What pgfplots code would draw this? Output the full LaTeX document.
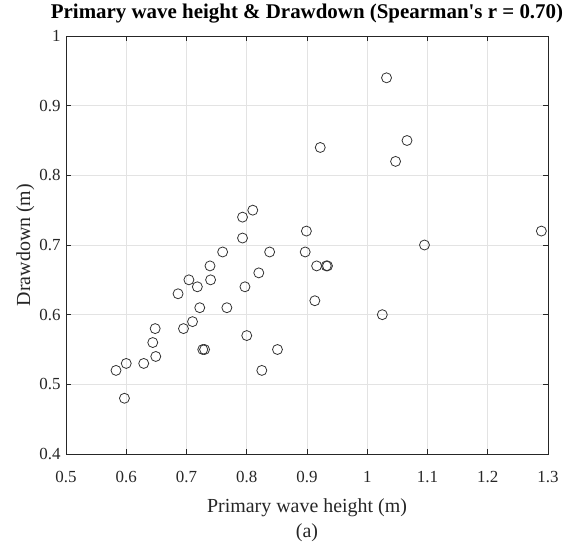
\documentclass[border=0pt]{standalone}
\usepackage{pgfplots}
\pgfplotsset{compat=1.18}
\usepackage{fontspec}
\setmainfont{Liberation Serif}
\definecolor{mk}{HTML}{333333}
\definecolor{gridc}{HTML}{E3E3E3}
\definecolor{axc}{HTML}{262626}
\begin{document}
\begin{tikzpicture}
\path[use as bounding box] (0,0) rectangle (567bp,544bp);
\begin{axis}[
  at={(66bp,90bp)}, anchor=south west,
  scale only axis, width=482bp, height=418bp,
  xmin=0.5, xmax=1.3, ymin=0.4, ymax=1,
  xtick={0.5,0.6,...,1.3}, ytick={0.4,0.5,...,1.0},
  /pgf/number format/assume math mode=true,
  /pgf/number format/.cd, fixed, precision=1, /pgfplots/.cd,
  ticklabel style={font=\fontsize{17}{17}\selectfont, text=axc},
  xticklabel style={yshift=-14bp},
  yticklabel style={xshift=-2bp},
  grid=major, major grid style={gridc, line width=0.6bp},
  tick align=inside, major tick length=5bp,
  tick style={axc, line width=0.6bp},
  axis line style={axc, line width=0.8bp},
  xlabel={Primary wave height (m)}, ylabel={Drawdown (m)},
  label style={font=\fontsize{20}{20}\selectfont, text=axc},
  xlabel style={at={(rel axis cs:0.5,0)}, anchor=center, yshift=-54bp},
  ylabel style={yshift=-2bp},
  title={Primary wave height \& Drawdown (Spearman\textquotesingle s r = 0.70)},
  title style={font=\bfseries\fontsize{21}{21}\selectfont, at={(0.5,1)}, anchor=south, yshift=3bp},
  clip=false,
]
\addplot[only marks, mark=o, mark size=5bp, mark options={draw=mk, line width=0.8bp}] coordinates {
(1.032,0.94) (0.922,0.84) (1.066,0.85) (1.047,0.82) (0.810,0.75)
(0.793,0.74) (0.899,0.72) (1.289,0.72) (0.793,0.71) (1.095,0.70)
(0.760,0.69) (0.838,0.69) (0.897,0.69) (0.739,0.67) (0.916,0.67)
(0.932,0.67) (0.934,0.67) (0.820,0.66) (0.704,0.65) (0.740,0.65)
(0.718,0.64) (0.797,0.64) (0.686,0.63) (0.913,0.62) (0.722,0.61)
(0.767,0.61) (1.025,0.60) (0.710,0.59) (0.648,0.58) (0.695,0.58)
(0.800,0.57) (0.644,0.56) (0.727,0.55) (0.730,0.55) (0.851,0.55)
(0.649,0.54) (0.600,0.53) (0.629,0.53) (0.583,0.52) (0.825,0.52)
(0.597,0.48)
};
\node[font=\fontsize{20}{20}\selectfont, text=axc] at (rel axis cs:0.5,0) [yshift=-79bp] {(a)};
\end{axis}
\end{tikzpicture}
\end{document}
